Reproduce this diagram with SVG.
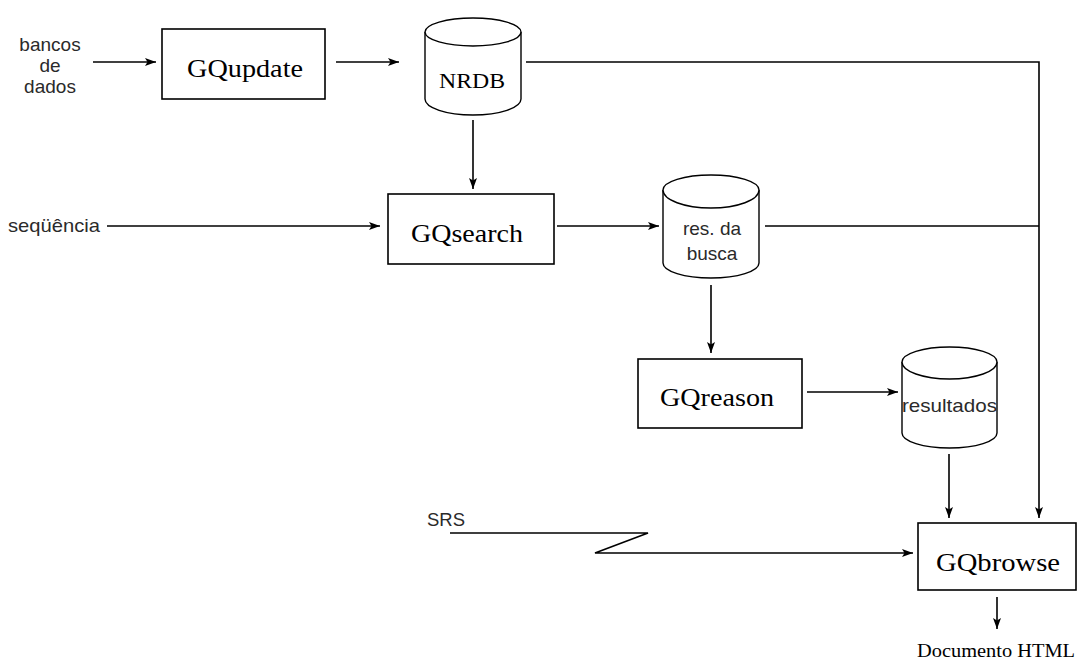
<svg xmlns="http://www.w3.org/2000/svg" width="1079" height="660" viewBox="0 0 1079 660">
  <defs>
    <style>
      .box { fill: #fff; stroke: #000; stroke-width: 1.6; }
      .db { fill: #fff; stroke: #000; stroke-width: 1.4; }
      .line { fill: none; stroke: #000; stroke-width: 1.6; }
      .gq { font-family: "Liberation Serif", serif; font-size: 25px; fill: #000; }
      .serif { font-family: "Liberation Serif", serif; fill: #000; }
      .sans { font-family: "Liberation Sans", Arial, sans-serif; font-size: 19px; fill: #2a2a2a; }
    </style>
    <marker id="arrow" markerUnits="userSpaceOnUse" markerWidth="12" markerHeight="9" refX="11" refY="4.5" orient="auto">
      <path d="M0,0.5 L11,4.5 L0,8.5 L2.5,4.5 Z" fill="#000"/>
    </marker>
  </defs>

  <!-- external inputs -->
  <g id="input-bancos">
    <text class="sans" text-anchor="middle" x="50" y="51">bancos</text>
    <text class="sans" text-anchor="middle" x="50" y="72">de</text>
    <text class="sans" text-anchor="middle" x="50" y="93">dados</text>
  </g>
  <g id="input-sequencia">
    <text class="sans" x="8" y="232" textLength="92" lengthAdjust="spacingAndGlyphs">seqüência</text>
  </g>
  <g id="input-srs">
    <text class="sans" x="427" y="526" font-size="17" textLength="38" lengthAdjust="spacingAndGlyphs" fill="#111">SRS</text>
  </g>

  <!-- processes -->
  <g id="gqupdate">
    <rect class="box" x="162" y="29" width="163" height="70"/>
    <text class="gq" x="187" y="77" textLength="116" lengthAdjust="spacingAndGlyphs">GQupdate</text>
  </g>
  <g id="gqsearch">
    <rect class="box" x="388" y="194" width="166" height="70"/>
    <text class="gq" x="411" y="242" textLength="112" lengthAdjust="spacingAndGlyphs">GQsearch</text>
  </g>
  <g id="gqreason">
    <rect class="box" x="638" y="359" width="164" height="69"/>
    <text class="gq" x="660" y="406" textLength="114" lengthAdjust="spacingAndGlyphs">GQreason</text>
  </g>
  <g id="gqbrowse">
    <rect class="box" x="918" y="523" width="158" height="67"/>
    <text class="gq" x="936" y="571" textLength="124" lengthAdjust="spacingAndGlyphs">GQbrowse</text>
  </g>

  <!-- data stores -->
  <g id="nrdb">
    <path class="db" d="M425,32 A48,14 0 0 1 521,32 V99 A48,16 0 0 1 425,99 Z"/>
    <path class="db" d="M425,32 A48,14 0 0 0 521,32"/>
    <text class="serif" x="439" y="88" font-size="22" textLength="66" lengthAdjust="spacingAndGlyphs">NRDB</text>
  </g>
  <g id="res-busca">
    <path class="db" d="M663,190 A48,15 0 0 1 759,190 V263 A48,15 0 0 1 663,263 Z"/>
    <path class="db" d="M663,190 A48,18 0 0 0 759,190"/>
    <text class="sans" text-anchor="middle" x="712" y="235">res. da</text>
    <text class="sans" text-anchor="middle" x="712" y="260">busca</text>
  </g>
  <g id="resultados">
    <path class="db" d="M902,362 A47.5,15 0 0 1 997,362 V433 A47.5,15 0 0 1 902,433 Z"/>
    <path class="db" d="M902,362 A47.5,17 0 0 0 997,362"/>
    <text class="sans" x="902" y="412" textLength="95" lengthAdjust="spacingAndGlyphs">resultados</text>
  </g>

  <!-- output -->
  <g id="output-html">
    <text class="serif" x="917" y="657" font-size="18" textLength="158" lengthAdjust="spacingAndGlyphs">Documento HTML</text>
  </g>

  <!-- connectors -->
  <g id="connectors">
    <path class="line" d="M93,62 H156" marker-end="url(#arrow)"/>
    <path class="line" d="M336,62 H399" marker-end="url(#arrow)"/>
    <path class="line" d="M473,120 V189" marker-end="url(#arrow)"/>
    <path class="line" d="M526,62 H1039 V518" marker-end="url(#arrow)"/>
    <path class="line" d="M107,226 H380" marker-end="url(#arrow)"/>
    <path class="line" d="M557,226 H659" marker-end="url(#arrow)"/>
    <path class="line" d="M765,226 H1039"/>
    <path class="line" d="M711,285 V353" marker-end="url(#arrow)"/>
    <path class="line" d="M807,392 H898" marker-end="url(#arrow)"/>
    <path class="line" d="M949,454 V518" marker-end="url(#arrow)"/>
    <path class="line" d="M450,533 H648 L595,553 H913" marker-end="url(#arrow)"/>
    <path class="line" d="M997,597 V629" marker-end="url(#arrow)"/>
  </g>
</svg>
